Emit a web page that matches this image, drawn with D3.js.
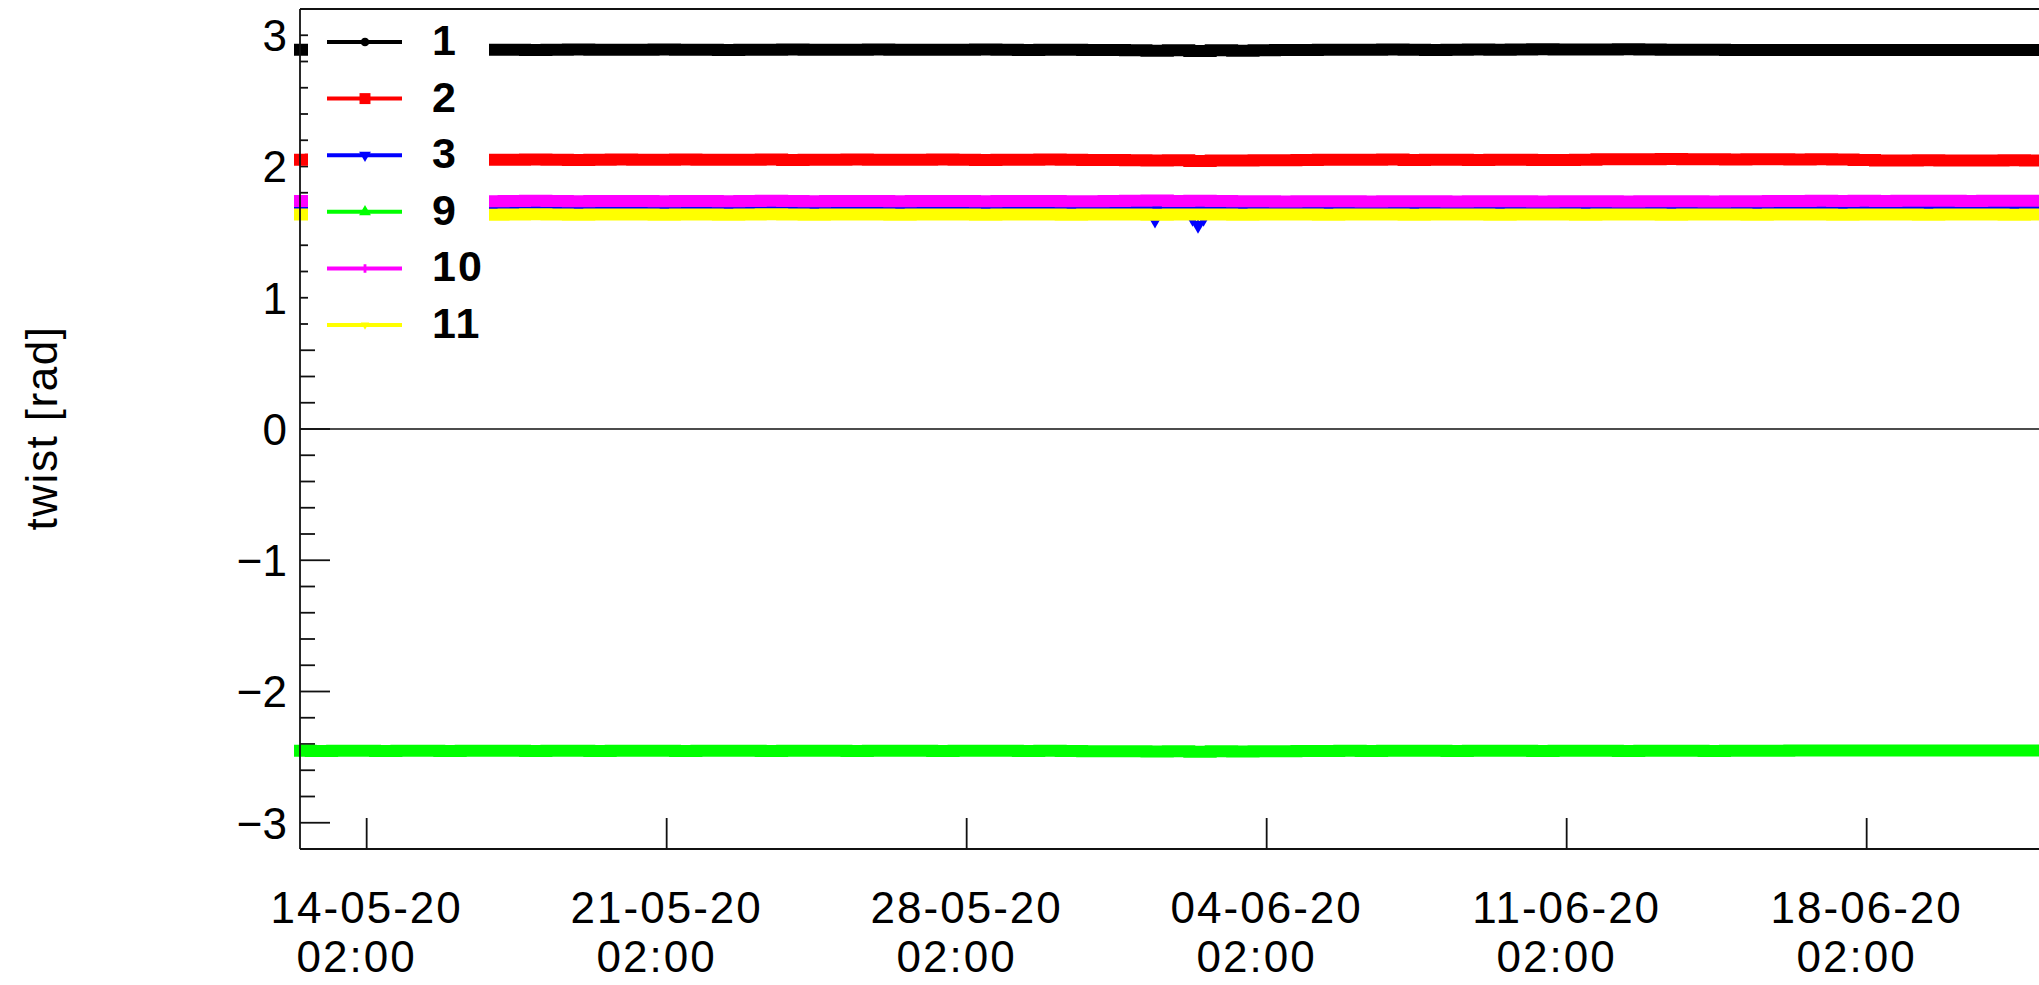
<!DOCTYPE html>
<html><head><meta charset="utf-8">
<script src="https://cdn.jsdelivr.net/npm/d3@7"></script>
<style>html,body{margin:0;padding:0;background:#fff;overflow:hidden}</style>
</head><body>
<svg id="chart" width="2039" height="985"></svg>
<script>
// ---------------- data ----------------
const startTime = "2020-05-12T10:40:00Z";
const stepHours = 12;
const xDomain = ["2020-05-12T10:40:00Z", "2020-06-22T23:28:00Z"];
const yDomain = [-3.2, 3.2];

const seriesNames = ["1", "2", "3", "9", "10", "11"];
const seriesColors = ["#000000", "#ff0000", "#0000ff", "#00ff00", "#ff00ff", "#ffff00"];
const seriesMarkers = ["circle", "square", "triangleDown", "triangleUp", "plus", "smallDown"];

const s1 = [2.890,2.890,2.888,2.890,2.892,2.890,2.889,2.890,2.891,2.890,
  2.890,2.888,2.890,2.892,2.890,2.890,2.889,2.891,2.890,2.890,
  2.888,2.890,2.890,2.891,2.890,2.889,2.890,2.892,2.890,2.890,
  2.889,2.890,2.891,2.890,2.888,2.890,2.890,2.888,2.887,2.886,
  2.882,2.885,2.880,2.885,2.882,2.886,2.887,2.888,2.890,2.889,
  2.890,2.891,2.890,2.888,2.890,2.891,2.890,2.892,2.893,2.892,
  2.891,2.892,2.893,2.892,2.890,2.889,2.890,2.888,2.887,2.888,
  2.887,2.888,2.887,2.888,2.887,2.888,2.888,2.887,2.888,2.887,
  2.888,2.887,2.888,2.888];
const s2 = [2.052,2.053,2.050,2.052,2.054,2.052,2.050,2.053,2.052,2.051,
  2.052,2.054,2.052,2.050,2.052,2.053,2.051,2.052,2.054,2.052,
  2.051,2.052,2.053,2.050,2.052,2.052,2.054,2.052,2.051,2.052,
  2.053,2.052,2.050,2.052,2.051,2.053,2.052,2.050,2.049,2.047,
  2.045,2.047,2.042,2.046,2.045,2.047,2.048,2.050,2.052,2.051,
  2.052,2.053,2.050,2.052,2.051,2.050,2.052,2.051,2.050,2.050,
  2.052,2.055,2.056,2.055,2.057,2.056,2.055,2.054,2.056,2.055,
  2.054,2.055,2.053,2.050,2.046,2.045,2.047,2.046,2.045,2.046,
  2.047,2.046,2.045,2.046];
const s3 = [1.713,1.712,1.714,1.713,1.711,1.713,1.714,1.712,1.713,1.712,
  1.714,1.713,1.712,1.713,1.714,1.712,1.713,1.711,1.713,1.714,
  1.712,1.713,1.712,1.714,1.713,1.712,1.713,1.714,1.712,1.713,
  1.712,1.713,1.714,1.712,1.713,1.711,1.712,1.710,1.709,1.708,
  1.707,1.706,1.707,1.706,1.708,1.709,1.710,1.711,1.712,1.711,
  1.712,1.713,1.711,1.712,1.713,1.711,1.712,1.713,1.712,1.711,
  1.712,1.713,1.712,1.711,1.712,1.713,1.712,1.711,1.712,1.713,
  1.712,1.711,1.712,1.713,1.712,1.711,1.712,1.713,1.712,1.711,
  1.712,1.713,1.712,1.711];
// isolated low readings of series 3 (drawn as markers)
const s3DipTimes = ["2020-06-01T09:28:00Z", "2020-06-02T06:30:00Z", "2020-06-02T09:34:00Z", "2020-06-02T09:34:00Z", "2020-06-02T12:40:00Z"];
const s3DipValues = [1.577, 1.590, 1.560, 1.538, 1.590];
const s9 = [-2.452,-2.453,-2.451,-2.452,-2.454,-2.452,-2.451,-2.453,-2.452,-2.451,
  -2.452,-2.454,-2.452,-2.451,-2.453,-2.452,-2.452,-2.451,-2.453,-2.452,
  -2.451,-2.452,-2.454,-2.452,-2.451,-2.452,-2.453,-2.452,-2.451,-2.452,
  -2.453,-2.452,-2.451,-2.452,-2.453,-2.452,-2.454,-2.455,-2.455,-2.456,
  -2.458,-2.455,-2.459,-2.456,-2.458,-2.456,-2.455,-2.454,-2.453,-2.452,
  -2.453,-2.452,-2.451,-2.452,-2.453,-2.452,-2.451,-2.452,-2.453,-2.452,
  -2.451,-2.452,-2.453,-2.452,-2.451,-2.452,-2.453,-2.452,-2.451,-2.452,
  -2.450,-2.449,-2.450,-2.449,-2.450,-2.449,-2.450,-2.449,-2.450,-2.449,
  -2.450,-2.449,-2.450,-2.449];
const s10 = [1.737,1.738,1.736,1.737,1.739,1.737,1.736,1.738,1.737,1.736,
  1.737,1.739,1.737,1.736,1.738,1.737,1.737,1.736,1.738,1.737,
  1.736,1.737,1.739,1.737,1.736,1.737,1.738,1.737,1.736,1.737,
  1.738,1.737,1.736,1.737,1.738,1.737,1.736,1.735,1.737,1.739,
  1.741,1.738,1.740,1.737,1.736,1.735,1.734,1.735,1.736,1.735,
  1.734,1.735,1.736,1.735,1.734,1.735,1.736,1.735,1.734,1.735,
  1.736,1.735,1.734,1.735,1.736,1.735,1.734,1.735,1.736,1.737,
  1.738,1.739,1.738,1.739,1.738,1.739,1.740,1.739,1.738,1.739,
  1.740,1.739,1.738,1.739];
const s11 = [1.634,1.635,1.633,1.634,1.636,1.634,1.633,1.635,1.634,1.633,
  1.634,1.636,1.634,1.633,1.635,1.634,1.634,1.633,1.635,1.634,
  1.633,1.634,1.636,1.634,1.633,1.634,1.635,1.634,1.633,1.634,
  1.635,1.634,1.633,1.634,1.635,1.634,1.633,1.634,1.635,1.634,
  1.633,1.634,1.635,1.634,1.633,1.634,1.635,1.634,1.633,1.634,
  1.635,1.634,1.633,1.634,1.635,1.634,1.633,1.634,1.635,1.634,
  1.633,1.634,1.635,1.634,1.633,1.634,1.635,1.634,1.633,1.634,
  1.635,1.634,1.633,1.634,1.635,1.634,1.633,1.634,1.635,1.634,
  1.633,1.634,1.635,1.634];
const seriesValues = [s1, s2, s3, s9, s10, s11];

const xTickDates = ["2020-05-14T00:00:00Z","2020-05-21T00:00:00Z","2020-05-28T00:00:00Z",
  "2020-06-04T00:00:00Z","2020-06-11T00:00:00Z","2020-06-18T00:00:00Z"];
const xTickLabels = [["14-05-20","02:00"],["21-05-20","02:00"],["28-05-20","02:00"],
  ["04-06-20","02:00"],["11-06-20","02:00"],["18-06-20","02:00"]];
const yTicks = [-3, -2, -1, 0, 1, 2, 3];
const yTickLabels = ["\u22123", "\u22122", "\u22121", "0", "1", "2", "3"];
const yLabel = "twist [rad]";

// ---------------- layout ----------------
const L = 300, R = 2080, T = 9, B = 849;
const svg = d3.select("#chart");
const font = "'Liberation Sans', Arial, Helvetica, sans-serif";

const t0 = new Date(startTime).getTime();
const times = s1.map((_, i) => new Date(t0 + i * stepHours * 3600e3));

const x = d3.scaleUtc().domain(xDomain.map(d => new Date(d))).range([L, R]);
const y = d3.scaleLinear().domain(yDomain).range([B, T]);

// y ticks (inward, right of axis)
const yMinor = d3.range(-16, 17).map(k => k / 5).filter(v => v > yDomain[0] && v < yDomain[1] && Math.abs(v - Math.round(v)) > 1e-6);
const gAx = svg.append("g").attr("stroke", "#111").attr("stroke-width", 1.8);
gAx.selectAll("line.ymaj").data(yTicks).join("line")
  .attr("x1", L).attr("x2", L + 30).attr("y1", d => y(d)).attr("y2", d => y(d));
gAx.selectAll("line.ymin").data(yMinor).join("line")
  .attr("x1", L).attr("x2", L + 15).attr("y1", d => y(d)).attr("y2", d => y(d));
gAx.selectAll("line.xmaj").data(xTickDates).join("line")
  .attr("x1", d => x(new Date(d))).attr("x2", d => x(new Date(d)))
  .attr("y1", B).attr("y2", B - 31);

// zero line
svg.append("line").attr("x1", L).attr("x2", R).attr("y1", y(0)).attr("y2", y(0))
  .attr("stroke", "#111").attr("stroke-width", 1.5);

// series
const line = d3.line().x(d => x(d.t)).y(d => y(d.v)).curve(d3.curveStep);
const triDown = d3.symbol().type(d3.symbolTriangle).size(55)();
seriesValues.forEach((vals, k) => {
  const pts = vals.map((v, i) => ({ t: times[i], v }));
  svg.append("path").datum(pts).attr("d", line)
    .attr("fill", "none").attr("stroke", seriesColors[k])
    .attr("stroke-width", 12).attr("stroke-linecap", "square").attr("stroke-linejoin", "miter");
  if (k === 2) {
    const dips = s3DipValues.map((v, i) => ({ t: new Date(s3DipTimes[i]), v }));
    svg.append("g").selectAll("path").data(dips).join("path")
      .attr("d", triDown)
      .attr("transform", d => `translate(${x(d.t)},${y(d.v)}) rotate(180)`)
      .attr("fill", seriesColors[k]);
    svg.append("g").selectAll("line").data(dips).join("line")
      .attr("x1", d => x(d.t)).attr("x2", d => x(d.t))
      .attr("y1", y(1.70)).attr("y2", d => y(d.v))
      .attr("stroke", seriesColors[k]).attr("stroke-width", 1.5);
  }
});

// legend (white box covering data)
const legX = 308, legY = 11, legW = 181, legH = 332;
svg.append("rect").attr("x", legX).attr("y", legY).attr("width", legW).attr("height", legH).attr("fill", "#fff");
const rowY = i => 42 + i * 56.6;
const lg = svg.append("g");
seriesNames.forEach((name, i) => {
  const yy = rowY(i);
  lg.append("line").attr("x1", 327).attr("x2", 402).attr("y1", yy).attr("y2", yy)
    .attr("stroke", seriesColors[i]).attr("stroke-width", 4);
  const m = seriesMarkers[i];
  let sym, size, rot = 0;
  if (m === "circle") { sym = d3.symbolCircle; size = 60; }
  else if (m === "square") { sym = d3.symbolSquare; size = 120; }
  else if (m === "triangleDown") { sym = d3.symbolTriangle; size = 60; rot = 180; }
  else if (m === "triangleUp") { sym = d3.symbolTriangle; size = 60; }
  else if (m === "plus") { sym = d3.symbolCross; size = 40; }
  else { sym = d3.symbolTriangle; size = 30; rot = 180; }
  lg.append("path").attr("d", d3.symbol().type(sym).size(size)())
    .attr("transform", `translate(365,${yy}) rotate(${rot})`)
    .attr("fill", seriesColors[i]);
  lg.append("text").attr("x", 432).attr("y", yy + 13).text(name)
    .attr("font-family", font).attr("font-weight", "bold").attr("font-size", 43)
    .attr("letter-spacing", 2).attr("fill", "#000");
});

// frame
const fr = svg.append("g").attr("stroke", "#111").attr("stroke-width", 1.8);
fr.append("line").attr("x1", L).attr("x2", L).attr("y1", T).attr("y2", B);
fr.append("line").attr("x1", L).attr("x2", R).attr("y1", T).attr("y2", T);
fr.append("line").attr("x1", L).attr("x2", R).attr("y1", B).attr("y2", B);

// y tick labels
svg.append("g").selectAll("text").data(yTicks).join("text")
  .attr("x", 287).attr("y", d => y(d)).attr("dy", "0.36em")
  .attr("text-anchor", "end").attr("font-family", font).attr("font-size", 44)
  .attr("fill", "#000").text((d, i) => yTickLabels[i]);

// x tick labels
const xl = svg.append("g");
xTickDates.forEach((d, i) => {
  const xx = x(new Date(d));
  xl.append("text").attr("x", xx).attr("y", 923).attr("text-anchor", "middle")
    .attr("font-family", font).attr("font-size", 44).attr("letter-spacing", 2)
    .text(xTickLabels[i][0]);
  xl.append("text").attr("x", xx - 10).attr("y", 972).attr("text-anchor", "middle")
    .attr("font-family", font).attr("font-size", 44).attr("letter-spacing", 2)
    .text(xTickLabels[i][1]);
});

// y axis title
svg.append("text").attr("transform", "translate(57,428) rotate(-90)")
  .attr("text-anchor", "middle").attr("font-family", font).attr("font-size", 44)
  .attr("letter-spacing", 1.5).attr("fill", "#000").text(yLabel);
</script>
</body></html>
